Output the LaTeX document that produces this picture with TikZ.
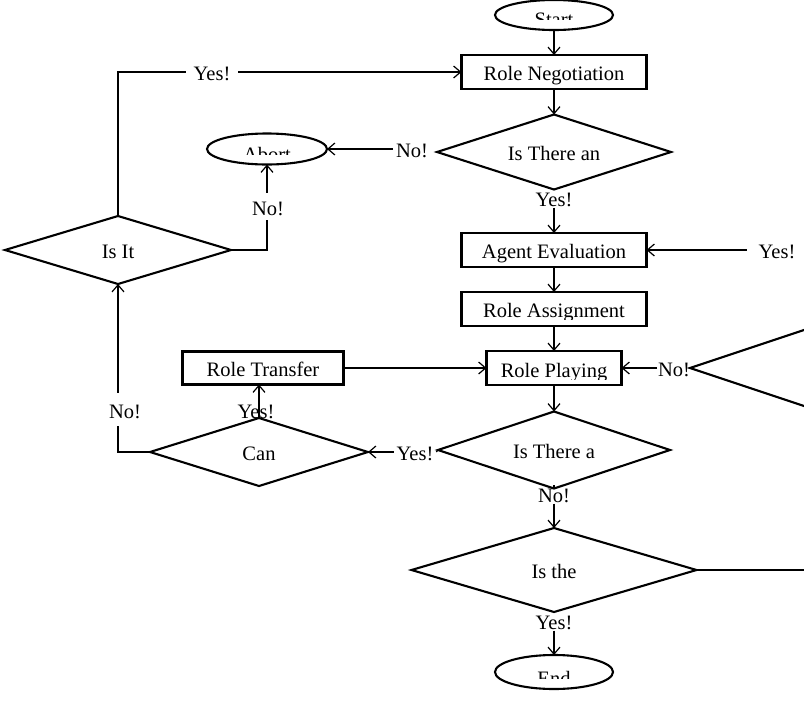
\documentclass[tikz,border=0pt]{standalone}
\usepackage{fontspec}
\setmainfont{Liberation Serif}
\usetikzlibrary{shapes.geometric,arrows.meta}

\begin{document}
\begin{tikzpicture}[x=1pt,y=-1pt,
  every node/.style={font=\fontsize{20.5}{24}\selectfont, text height=17pt, text depth=0pt, inner sep=0pt, outer sep=0pt},
  stepbox/.style={draw, line width=2.1pt, minimum height=34pt},
  oval/.style={draw, ellipse, line width=2.1pt},
  decision/.style={draw, diamond, line width=2.1pt, aspect=3.2},
  lbl/.style={inner xsep=3pt, inner ysep=1pt},
  gap/.style={fill=white},
  conn/.style={line width=1.2pt},
  arr/.style={conn, -{Straight Barb[length=7pt,width=12pt,line width=1.2pt]}},
]
\useasboundingbox (0,0) rectangle (804,705);
\clip (0,0) rectangle (804,705);

% ---- main column
\node[oval, minimum width=118pt, minimum height=30pt] (start) at (554,15) {};
\node[stepbox, minimum width=185pt] (rn) at (554,72) {Role Negotiation};
\node[decision, minimum width=234pt, minimum height=75pt] (d1) at (554,152) {Is There an};
\node[stepbox, minimum width=185pt] (ae) at (554,250) {Agent Evaluation};
\node[stepbox, minimum width=185pt] (ra) at (554,309) {};
\node[stepbox, minimum width=135pt] (rp) at (554,368) {};
\node[decision, minimum width=232pt, minimum height=77pt] (d2) at (554,450) {Is There a};
\node[decision, minimum width=285pt, minimum height=84pt] (d3) at (554,570) {Is the};
\node[oval, minimum width=118pt, minimum height=34pt] (end) at (554,672) {};

% ---- left branch
\node[oval, minimum width=120pt, minimum height=31pt] (abort) at (267,149) {};
\node[decision, minimum width=226pt, minimum height=68pt] (isit) at (118,250) {Is It};
\node[stepbox, minimum width=161pt, minimum height=33pt] (rt) at (263,368) {Role Transfer};
\node[decision, minimum width=218pt, minimum height=68pt] (can) at (259,452) {Can};

% ---- right branch (runs past the edge)
\node[decision, minimum width=450pt, minimum height=150pt] (d4) at (915,368) {};
\coordinate (edgeAE) at (812,250);
\coordinate (edgeD3) at (812,570);

% ---- texts cut at their lower part
\begin{scope}
  \clip (480,0) rectangle (630,19.5);
  \node[anchor=base] (starttxt) at (554,26) {Start};
\end{scope}
\begin{scope}
  \clip (200,130) rectangle (340,154);
  \node[anchor=base] (aborttxt) at (267,161) {Abort};
\end{scope}
\begin{scope}
  \clip (480,655) rectangle (630,678);
  \node[anchor=base] (endtxt) at (554,685) {End};
\end{scope}
\begin{scope}
  \clip (464,294) rectangle (645,319);
  \node[anchor=base] (ratxt) at (554,317) {Role Assignment};
\end{scope}
\begin{scope}
  \clip (489,353) rectangle (620,379);
  \node[anchor=base] (rptxt) at (554,377) {Role Playing};
\end{scope}

% ---- labels
\node[lbl] (no1) at (412,149) {No!};
\node[lbl] (yes1) at (554,198) {Yes!};
\node[lbl, inner xsep=12pt] (yesAE) at (777,250) {Yes!};
\node[lbl, inner xsep=1pt] (noRP) at (674,368) {No!};
\node[lbl] (yesC) at (415,452) {Yes!};
\node[lbl] (noD) at (554,494) {No!};
\node[lbl] (yesE) at (554,621) {Yes!};

% ---- connectors down the main column
\draw[arr] (start) -- (rn);
\draw[arr] (rn) -- (d1);
\draw[conn] (d1.south) -- (yes1.north);
\draw[arr] (yes1.south) -- (ae.north);
\draw[arr] (ae) -- (ra);
\draw[arr] (ra) -- (rp);
\draw[arr] (rp) -- (d2);
\draw[conn] (d2.south) -- (noD.north);
\draw[arr] (noD.south) -- (d3.north);
\draw[conn] (d3.south) -- (yesE.north);
\draw[arr] (yesE.south) -- (end.north);

% ---- side connectors
\draw[arr] (no1.west) -- (abort.east);
\draw[conn] (edgeAE) -- (yesAE.east);
\draw[arr] (yesAE.west) -- (ae.east);
\draw[conn] (d4.west) -- (noRP.east);
\draw[arr] (noRP.west) -- (rp.east);
\draw[arr] (rt.east) -- (rp.west);
\draw[conn] (d2.west) -- (yesC.east);
\draw[arr] (yesC.west) -- (can.east);
\draw[arr] (can.north) -- (can.north |- rt.south);
\draw[conn] (d3.east) -- (edgeD3);
\draw[arr] (can.west) -- (can.west -| isit.south) -- (isit.south);
\draw[arr] (isit.north) |- (rn.west);
\draw[arr] (isit.east) -| (abort.south);

% ---- labels set on the loop lines
\node[lbl, gap, inner xsep=8pt, inner ysep=3pt] (yesTop) at (212,72) {Yes!};
\node[lbl, gap, inner xsep=2pt, inner ysep=8pt] (noC) at (125,409.5) {No!};
\node[lbl, gap, inner xsep=2pt, inner ysep=5pt] (noIsIt) at (268,206.5) {No!};
\node[lbl] (yesT) at (256,409.5) {Yes!};
\end{tikzpicture}
\end{document}
